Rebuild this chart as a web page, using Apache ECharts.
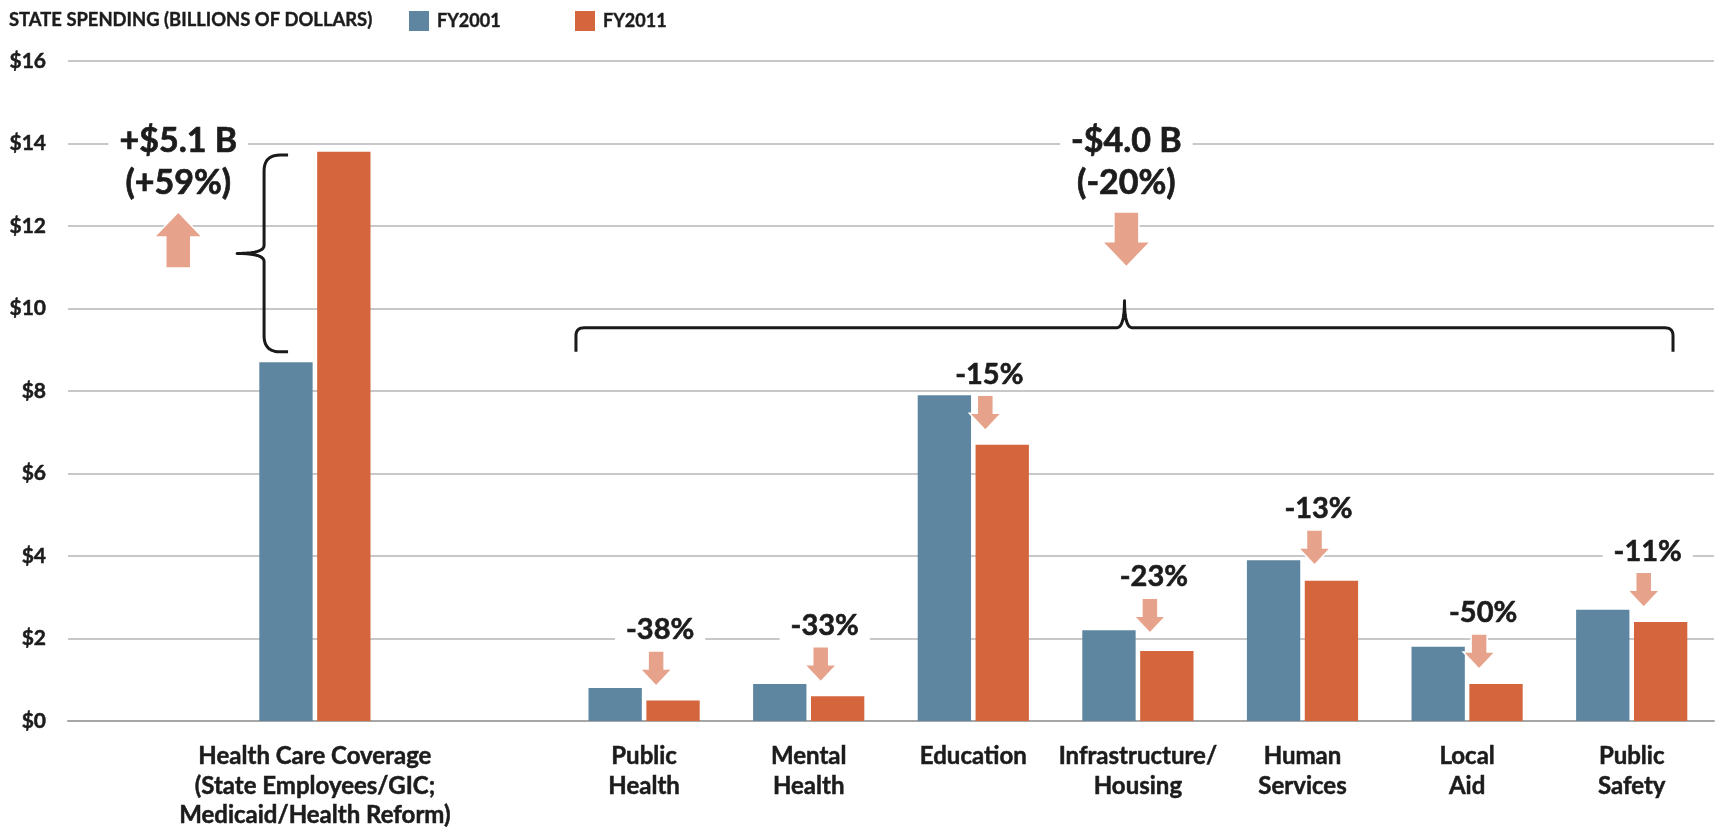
<!DOCTYPE html>
<html><head><meta charset="utf-8">
<script src="https://cdn.jsdelivr.net/npm/echarts@6/dist/echarts.min.js"></script>
<style>html,body{margin:0;padding:0;background:#fff}#main{width:1715px;height:831px}</style>
</head><body><div id="main"></div>
<script>
// ---------- data ----------
const categories = ['', 'Health Care Coverage\n(State Employees/GIC;\nMedicaid/Health Reform)', '', 'Public\nHealth', 'Mental\nHealth', 'Education', 'Infrastructure/\nHousing', 'Human\nServices', 'Local\nAid', 'Public\nSafety'];
const fy2001 = [null, 8.7, null, 0.8, 0.9, 7.9, 2.2, 3.9, 1.8, 2.7];
const fy2011 = [null, 13.8, null, 0.5, 0.6, 6.7, 1.7, 3.4, 0.9, 2.4];
const seriesNames = ['FY2001', 'FY2011'];
const yMin = 0, yMax = 16, yInterval = 2;
const changePct = [null, null, null, '-38%', '-33%', '-15%', '-23%', '-13%', '-50%', '-11%'];
const groupChangeText = [['+$5.1 B', '(+59%)'], ['-$4.0 B', '(-20%)']];
const titleText = 'STATE SPENDING (BILLIONS OF DOLLARS)';

// ---------- annotation placement (x = category index, y = $ billions) ----------
const changeArrowTip = [null, null, null, 0.85, 0.95, 7.05, 2.13, 3.78, 1.26, 2.76];
const groupAnno = [
  { x: 0.17, textY: 13.55, arrowBase: 10.98, arrowTip: 12.34 },
  { x: 5.93, textY: 13.55, arrowBase: 12.34, arrowTip: 11.01 }
];
const braces = [
  { x1: 0.837, y1: 13.72, x2: 0.837, y2: 8.95, r: 16 },
  { x1: 9.251, y1: 8.95, x2: 2.586, y2: 8.95, r: 8 }
];

const FONT = 'Lato, "Open Sans", sans-serif';
const TXT = '#1c1c1c';
const BLUE = '#5E86A0', ORANGE = '#D4653C', SALMON = '#E6A28A';
const HEAVY = { textBorderColor: TXT, textBorderWidth: 0.5 };

function arrowPts(cx, yBase, yTip, sh, hh, hl) {
  const dir = yTip > yBase ? 1 : -1;
  const hb = yTip - dir * hl;
  return [[cx - sh, yBase], [cx + sh, yBase], [cx + sh, hb], [cx + hh, hb], [cx, yTip], [cx - hh, hb], [cx - sh, hb]];
}
function quad(a, c, b, n, out) {
  for (let i = 1; i <= n; i++) {
    const t = i / n, u = 1 - t;
    out.push([u*u*a[0] + 2*u*t*c[0] + t*t*b[0], u*u*a[1] + 2*u*t*c[1] + t*t*b[1]]);
  }
}
function bracePts(p1, p2, s, r, d, tw) {
  const dx = p2[0]-p1[0], dy = p2[1]-p1[1], L = Math.hypot(dx, dy);
  const t = [dx/L, dy/L], n = [-t[1], t[0]];
  const P = (b, a, k) => [b[0] + n[0]*a + t[0]*k, b[1] + n[1]*a + t[1]*k];
  const mid = [(p1[0]+p2[0])/2, (p1[1]+p2[1])/2];
  const pts = [p1, P(p1, s - r, 0)];
  quad(P(p1, s - r, 0), P(p1, s, 0), P(p1, s, r), 10, pts);
  pts.push(P(mid, s, -tw));
  quad(P(mid, s, -tw), P(mid, s, 0), P(mid, d, 0), 10, pts);
  quad(P(mid, d, 0), P(mid, s, 0), P(mid, s, tw), 10, pts);
  pts.push(P(p2, s, -r));
  quad(P(p2, s, -r), P(p2, s, 0), P(p2, s - r, 0), 10, pts);
  pts.push(p2);
  return pts;
}

const changeData = [];
changePct.forEach((t, i) => { if (t) changeData.push([i + 0.073, changeArrowTip[i], t]); });

const legendText = { fontFamily: FONT, fontWeight: 'bold', fontSize: 18, color: TXT, padding: [0, 0, 0, 3], textBorderColor: TXT, textBorderWidth: 0.4 };

const chart = echarts.init(document.getElementById('main'), null, { renderer: 'canvas' });
chart.setOption({
  animation: false,
  backgroundColor: '#fff',
  title: {
    text: titleText, left: 9, top: 9, padding: 0,
    textStyle: { fontFamily: FONT, fontWeight: 'bold', fontSize: 18.4, color: TXT, lineHeight: 22, textBorderColor: TXT, textBorderWidth: 0.4 }
  },
  legend: [
    { data: [seriesNames[0]], left: 409, top: 11, padding: 0, itemWidth: 20, itemHeight: 20, icon: 'rect', textStyle: legendText },
    { data: [seriesNames[1]], left: 575, top: 11, padding: 0, itemWidth: 20, itemHeight: 20, icon: 'rect', textStyle: legendText }
  ],
  grid: { left: 68, right: 1, top: 61, bottom: 110, containLabel: false },
  xAxis: [
    { type: 'category', data: categories,
      axisTick: { show: false },
      axisLine: { lineStyle: { color: '#A6A6A6', width: 2 } },
      axisLabel: Object.assign({ interval: 0, margin: 21, fontFamily: FONT, fontWeight: 'bold', fontSize: 24, lineHeight: 29.5, color: TXT }, HEAVY) },
    { type: 'value', min: -0.5, max: 9.5, show: false }
  ],
  yAxis: {
    type: 'value', min: yMin, max: yMax, interval: yInterval,
    axisLine: { show: false }, axisTick: { show: false },
    splitLine: { lineStyle: { color: '#C8C8C8', width: 2 } },
    axisLabel: Object.assign({ margin: 22, fontFamily: FONT, fontWeight: 'bold', fontSize: 21, color: TXT, formatter: v => '$' + v }, HEAVY)
  },
  series: [
    { name: seriesNames[0], type: 'bar', data: fy2001, barWidth: '32.4%', barGap: '8.5%',
      itemStyle: { color: BLUE } },
    { name: seriesNames[1], type: 'bar', data: fy2011, barWidth: '32.4%',
      itemStyle: { color: ORANGE } },
    { type: 'custom', xAxisIndex: 1, yAxisIndex: 0, clip: false, z: 5,
      data: braces.map(b => [b.x1, b.y1, b.x2, b.y2, b.r]),
      renderItem: (params, api) => {
        const p1 = api.coord([api.value(0), api.value(1)]);
        const p2 = api.coord([api.value(2), api.value(3)]);
        return { type: 'polyline', shape: { points: bracePts(p1, p2, 24, api.value(4), 51, 8) },
          style: { stroke: '#1a1a1a', lineWidth: 3, fill: null, lineJoin: 'round' } };
      } },
    { type: 'custom', xAxisIndex: 1, yAxisIndex: 0, clip: false, z: 6,
      data: changeData,
      renderItem: (params, api) => {
        const p = api.coord([api.value(0), api.value(1)]);
        const top = p[1] - 35;
        return { type: 'group', children: [
          { type: 'polygon', shape: { points: arrowPts(p[0], top, p[1], 8, 16, 17) },
            style: { fill: SALMON, stroke: '#fff', lineWidth: 1.5 } },
          { type: 'text', style: { text: changeData[params.dataIndex][2], x: p[0] + 4, y: top - 21,
              align: 'center', verticalAlign: 'middle', fontFamily: FONT, fontWeight: 'bold', fontSize: 29,
              fill: TXT, backgroundColor: '#fff', padding: [1, 11], stroke: TXT, lineWidth: 0.6 } }
        ] };
      } },
    { type: 'custom', xAxisIndex: 1, yAxisIndex: 0, clip: false, z: 6,
      data: groupAnno.map(g => [g.x, g.textY, g.arrowBase, g.arrowTip]),
      renderItem: (params, api) => {
        const c = api.coord([api.value(0), api.value(1)]);
        const b = api.coord([api.value(0), api.value(2)]);
        const t = api.coord([api.value(0), api.value(3)]);
        return { type: 'group', children: [
          { type: 'polygon', shape: { points: arrowPts(b[0], b[1], t[1], 12.5, 24, 25) },
            style: { fill: SALMON, stroke: '#fff', lineWidth: 1.5 } },
          { type: 'text', style: { text: groupChangeText[params.dataIndex].join('\n'), x: c[0], y: c[1],
              align: 'center', verticalAlign: 'middle', fontFamily: FONT, fontWeight: 'bold', fontSize: 34,
              lineHeight: 42, fill: TXT, backgroundColor: '#fff', padding: [0, 11], stroke: TXT, lineWidth: 0.7 } }
        ] };
      } }
  ]
});
</script></body></html>
